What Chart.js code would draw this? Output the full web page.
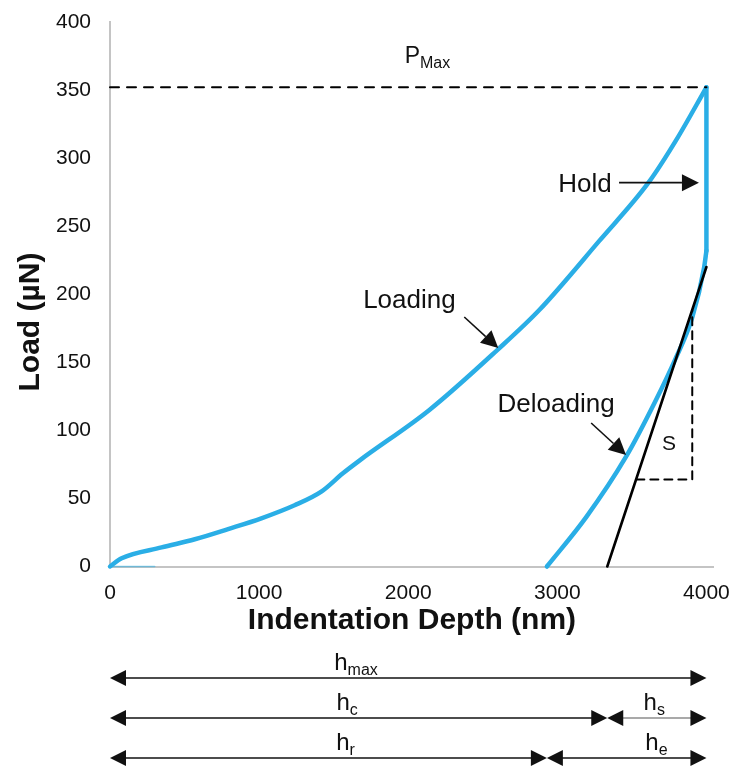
<!DOCTYPE html>
<html>
<head>
<meta charset="utf-8">
<title>Load vs depth</title>
<script src="https://cdn.jsdelivr.net/npm/chart.js@4.4.0/dist/chart.umd.min.js"></script>
<style>
  body { margin: 0; background: #fff; }
  #wrap { width: 733px; height: 769px; }
</style>
</head>
<body>
<div id="wrap"><canvas id="load-chart" width="733" height="769"></canvas></div>
<script>
// depth in nm, load in µN
const pMax = 352;
const hMax = 4000;
const hc = 3335;   // tangent meets zero load
const hr = 2930;   // unloading returns to zero load

const seatingDepth = [0, 300];
const seatingLoad  = [0, 0];

const loadingDepth = [0, 78, 346, 569, 792, 1015, 1238, 1417, 1562, 1675, 2142, 2597, 2879, 3280, 3615, 3796, 4000];
const loadingLoad  = [0, 6, 14, 20, 27.5, 35.4, 45, 55, 68.5, 78, 115, 159, 188.4, 239, 282.5, 313, 352];

const holdDepth = [4000, 4000];
const holdLoad  = [352, 232];

const unloadDepth = [2930, 3195, 3460, 3660, 3790, 3905, 3985, 4000];
const unloadLoad  = [0, 36.5, 80.5, 122, 152, 183, 220, 232];

const tangentDepth = [3335, 4000];
const tangentLoad  = [0, 220];

const slopeDepth = [3530, 3905, 3905];
const slopeLoad  = [64, 64, 188];

const pMaxDepth = [0, 4000];
const pMaxLoad  = [pMax, pMax];

const xTicks = [0, 1000, 2000, 3000, 4000];
const yTicks = [0, 50, 100, 150, 200, 250, 300, 350, 400];

const fontFamily = '"Liberation Sans", Arial, Helvetica, sans-serif';
Chart.defaults.font.family = fontFamily;

const blue = '#2aaee6';
const ink = '#111';

const toPoints = (xs, ys) => xs.map((x, i) => ({x: x, y: ys[i]}));

const arrowHead = (ctx, x, y, angle, len, half) => {
  ctx.save();
  ctx.translate(x, y);
  ctx.rotate(angle);
  ctx.beginPath();
  ctx.moveTo(0, 0);
  ctx.lineTo(-len, -half);
  ctx.lineTo(-len, half);
  ctx.closePath();
  ctx.fill();
  ctx.restore();
}

const pointer = (ctx, x0, y0, x1, y1, len, half) => {
  const a = Math.atan2(y1 - y0, x1 - x0);
  ctx.beginPath();
  ctx.moveTo(x0, y0);
  ctx.lineTo(x1 - Math.cos(a) * len, y1 - Math.sin(a) * len);
  ctx.stroke();
  arrowHead(ctx, x1, y1, a, len, half);
}

const subText = (ctx, main, sub, cx, y, size, subSize) => {
  ctx.font = size + 'px ' + fontFamily;
  const w1 = ctx.measureText(main).width;
  ctx.font = subSize + 'px ' + fontFamily;
  const w2 = ctx.measureText(sub).width;
  const x = cx - (w1 + w2) / 2;
  ctx.textAlign = 'left';
  ctx.textBaseline = 'alphabetic';
  ctx.font = size + 'px ' + fontFamily;
  ctx.fillText(main, x, y);
  ctx.font = subSize + 'px ' + fontFamily;
  ctx.fillText(sub, x + w1, y + size * 0.22);
}

// labelled pointers inside the plot
const callouts = [
  {text: 'Hold', at: [3186, 275], from: [3414, 282], to: [3950, 282]},
  {text: 'Loading', at: [2008, 190], from: [2376, 183.3], to: [2604, 160.5]},
  {text: 'Deloading', at: [2992, 113.5], from: [3227, 105.4], to: [3461, 81.9]}
];

// depth spans drawn under the x axis
const spans = [
  {from: 0, to: hMax, row: 0, main: 'h', sub: 'max', at: 1650},
  {from: 0, to: hc, row: 1, main: 'h', sub: 'c', at: 1590},
  {from: hc, to: hMax, row: 1, main: 'h', sub: 's', at: 3650, faint: true},
  {from: 0, to: hr, row: 2, main: 'h', sub: 'r', at: 1580},
  {from: hr, to: hMax, row: 2, main: 'h', sub: 'e', at: 3665}
];
const rowY = [678, 718, 758];

const notes = {
  id: 'notes',
  afterDatasetsDraw(chart) {
    const ctx = chart.ctx;
    const xs = chart.scales.x;
    const ys = chart.scales.y;
    ctx.save();
    ctx.fillStyle = ink;
    ctx.strokeStyle = ink;
    ctx.lineWidth = 1.6;

    callouts.forEach(c => {
      ctx.font = '26px ' + fontFamily;
      ctx.textAlign = 'center';
      ctx.textBaseline = 'alphabetic';
      ctx.fillText(c.text, xs.getPixelForValue(c.at[0]), ys.getPixelForValue(c.at[1]));
      pointer(ctx,
        xs.getPixelForValue(c.from[0]), ys.getPixelForValue(c.from[1]),
        xs.getPixelForValue(c.to[0]), ys.getPixelForValue(c.to[1]), 17, 8.5);
    });

    ctx.font = '21px ' + fontFamily;
    ctx.textAlign = 'center';
    ctx.fillText('S', xs.getPixelForValue(3749), ys.getPixelForValue(85.6));

    subText(ctx, 'P', 'Max', xs.getPixelForValue(2129), ys.getPixelForValue(370), 23, 16);

    // y axis title, placed by hand
    ctx.save();
    ctx.translate(31, 322);
    ctx.rotate(-Math.PI / 2);
    ctx.font = 'bold 30px ' + fontFamily;
    ctx.textAlign = 'center';
    ctx.textBaseline = 'middle';
    ctx.fillText('Load (µN)', 0, 0);
    ctx.restore();

    spans.forEach(s => {
      const y = rowY[s.row];
      const a = xs.getPixelForValue(s.from);
      const b = xs.getPixelForValue(s.to);
      ctx.strokeStyle = s.faint ? '#555' : ink;
      ctx.lineWidth = s.faint ? 1.2 : 1.6;
      ctx.beginPath();
      ctx.moveTo(a + 10, y);
      ctx.lineTo(b - 10, y);
      ctx.stroke();
      arrowHead(ctx, a, y, Math.PI, 16, 8);
      arrowHead(ctx, b, y, 0, 16, 8);
      subText(ctx, s.main, s.sub, xs.getPixelForValue(s.at), y - 8, 24, 16);
    });
    ctx.restore();
  }
};

const datasets = [
  {data: toPoints(tangentDepth, tangentLoad), borderColor: '#000', borderWidth: 2.6, order: 0},
  {data: toPoints(slopeDepth, slopeLoad), borderColor: '#000', borderWidth: 2, borderDash: [8, 6], order: 1},
  {data: toPoints(pMaxDepth, pMaxLoad), borderColor: '#000', borderWidth: 2, borderDash: [9, 8], order: 2},
  {data: toPoints(loadingDepth, loadingLoad), borderColor: blue, borderWidth: 4.5, cubicInterpolationMode: 'monotone', order: 3},
  {data: toPoints(holdDepth, holdLoad), borderColor: blue, borderWidth: 4.5, order: 4},
  {data: toPoints(unloadDepth, unloadLoad), borderColor: blue, borderWidth: 4.5, cubicInterpolationMode: 'monotone', order: 5},
  // barely visible trace lying on the zero-load baseline
  {data: toPoints(seatingDepth, seatingLoad), borderColor: 'rgba(42, 174, 230, 0.55)', borderWidth: 1.5, order: 6}
];
datasets.forEach(d => {
  d.showLine = true;
  d.pointRadius = 0;
  d.borderCapStyle = 'round';
  d.borderJoinStyle = 'round';
  d.fill = false;
  d.clip = 4;
});

const canvas = document.getElementById('load-chart').getContext('2d');
new Chart(canvas, {
  type: 'scatter',
  data: {datasets: datasets},
  plugins: [notes],
  options: {
    responsive: false,
    animation: false,
    events: [],
    layout: {padding: {top: 22, right: 18, bottom: 130.5, left: 0}},
    plugins: {legend: {display: false}, tooltip: {enabled: false}},
    scales: {
      x: {
        type: 'linear',
        min: 0,
        max: 4050,
        afterBuildTicks: axis => { axis.ticks = xTicks.map(v => ({value: v})); },
        afterFit: axis => { axis.height = 72; },
        // tick marks are hidden, tickLength only spaces the labels
        grid: {display: false, drawTicks: true, tickLength: 11},
        border: {display: true, color: '#c4c4c4', width: 2},
        ticks: {color: ink, font: {size: 21}, padding: 3, maxRotation: 0, callback: v => String(v)},
        title: {display: true, text: 'Indentation Depth (nm)', color: ink, font: {size: 30, weight: 'bold'}, padding: {top: 0, bottom: 0}}
      },
      y: {
        type: 'linear',
        min: 0,
        max: 400,
        afterBuildTicks: axis => { axis.ticks = yTicks.map(v => ({value: v})); },
        afterFit: axis => { axis.width = 110; },
        grid: {display: false, drawTicks: true, tickLength: 16},
        border: {display: true, color: '#c4c4c4', width: 2},
        ticks: {color: ink, font: {size: 21}, padding: 3, callback: v => String(v)}
      }
    }
  }
});
</script>
</body>
</html>
